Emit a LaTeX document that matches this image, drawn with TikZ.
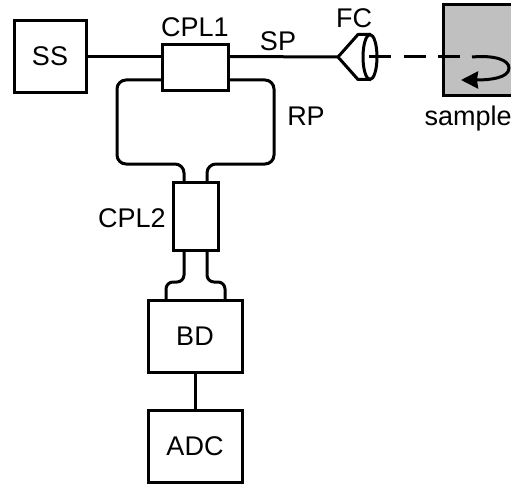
\documentclass[tikz,border=0pt]{standalone}
\usepackage{fontspec}
\setmainfont{Liberation Sans}
\usetikzlibrary{arrows.meta,shapes.geometric}
\definecolor{samplegray}{HTML}{C0C0C0}
\begin{document}
\begin{tikzpicture}[x=1pt,y=-1pt,
  line width=3pt,
  boxn/.style={draw=black,line width=3pt,inner sep=0pt,outer sep=0pt,anchor=north west,font=\fontsize{27}{27}\selectfont},
  lbl/.style={font=\fontsize{27}{27}\selectfont,inner sep=0pt,text=black,anchor=base},
  fibre/.style={draw=black,line width=3pt,rounded corners=9pt},
  smallbend/.style={draw=black,line width=3pt,rounded corners=7pt}]
\useasboundingbox (0,0) rectangle (511,484);
\clip (0,0) rectangle (511,484);
% sample
\node[boxn,fill=samplegray,minimum width=80pt,minimum height=91pt] (sample) at (443,5) {};
% boxes
\node[boxn,minimum width=72pt,minimum height=72pt] (ss) at (14,20.5) {SS};
\node[boxn,minimum width=66pt,minimum height=46pt] (cpl1) at (162,45) {};
\node[boxn,minimum width=45pt,minimum height=68pt] (cpl2) at (173,182) {};
\node[boxn,minimum width=94pt,minimum height=72pt] (bd) at (148,300) {BD};
\node[boxn,minimum width=94pt,minimum height=72pt] (adc) at (148,410) {ADC};
% fibre collimator
\node[draw=black,line width=3pt,ellipse,inner sep=0pt,outer sep=0pt,minimum width=14pt,minimum height=45pt] (fc) at (370,57) {};
\coordinate (fctip) at (338,57);
% coordinates
\coordinate (j1) at (184,183);
\coordinate (j2) at (207,183);
\coordinate (j3) at (184,250);
\coordinate (j4) at (207,250);
\coordinate (b1) at (166,300);
\coordinate (b2) at (225,300);
\coordinate (cl) at (162,80);
\coordinate (cr) at (228,80);
\coordinate (sampin) at (472,57);
\coordinate (samparrow) at (461,80);
% connectors
\draw (ss.east) -- (cpl1.west |- ss.east);
\draw (cpl1.east |- ss.east) -- (fctip);
\draw[fibre] (cl) -- (117,80) -- (117,164) -- (184,164) -- (j1);
\draw[fibre] (cr) -- (274,80) -- (274,164) -- (207,164) -- (j2);
\draw[smallbend] (j3) -- (184,282) -- (166,282) -- (b1);
\draw[smallbend] (j4) -- (207,282) -- (225,282) -- (b2);
\draw (bd.south) -- (adc.north);
% collimator cone
\draw[line join=round] (fc.north) -- (358,34.5) -- (fctip) -- (358,79.5) -- (fc.south);
% beam
\draw[dash pattern=on 22pt off 12.5pt] (369,57) -- (472,57);
\draw[-{Stealth[length=17pt,width=17pt,inset=1pt]}] (sampin) .. controls (495,55) and (509,60) .. (509,68) .. controls (509,78) and (490,80) .. (samparrow);
% labels
\node[lbl] (l1) at (195,37) {CPL1};
\node[lbl] (l2) at (278,51) {SP};
\node[lbl] (l3) at (306,125) {RP};
\node[lbl] (l4) at (132,227) {CPL2};
\node[lbl] (l5) at (354,28) {FC};
\node[lbl,anchor=base west] (l6) at (423,125) {sample};
\end{tikzpicture}
\end{document}
